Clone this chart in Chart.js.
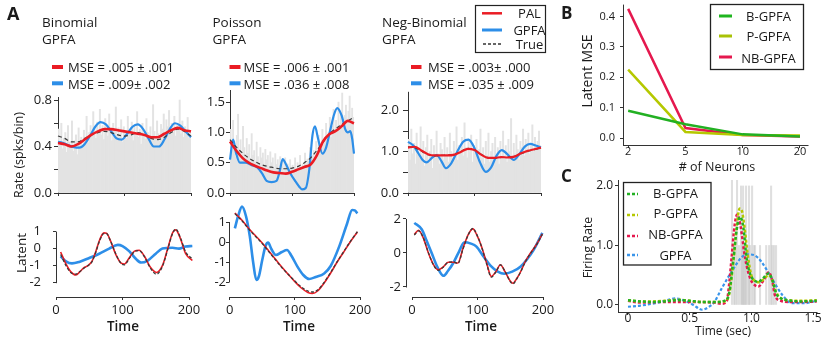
<!DOCTYPE html>
<html>
<head>
<meta charset="utf-8">
<script src="https://cdn.jsdelivr.net/npm/chart.js@4.4.0/dist/chart.umd.min.js"></script>
<style>
  body { margin: 0; background: #fff; }
  #wrap { position: relative; width: 830px; height: 338px; overflow: hidden; }
  #wrap canvas { position: absolute; }
  #wrap svg { position: absolute; left: 0; top: 0; z-index: 2; pointer-events: none; }
</style>
</head>
<body>
<div id="wrap">
<svg width="830" height="338" font-family="Open Sans" fill="#1a1a1a">
  <text x="7" y="20" font-size="18" font-weight="700">A</text>
  <text x="42" y="27" font-size="13.5">Binomial</text>
  <text x="42" y="43.5" font-size="13.5">GPFA</text>
  <text x="212.5" y="27" font-size="13.5">Poisson</text>
  <text x="212.5" y="43.5" font-size="13.5">GPFA</text>
  <text x="382" y="27" font-size="13.5">Neg-Binomial</text>
  <text x="382" y="43.5" font-size="13.5">GPFA</text>

  <g stroke-width="4">
    <line x1="52" y1="67" x2="63" y2="67" stroke="#ea1c24"/>
    <line x1="52" y1="83.3" x2="63" y2="83.3" stroke="#2d8ee8"/>
    <line x1="229.5" y1="67" x2="240.5" y2="67" stroke="#ea1c24"/>
    <line x1="229.5" y1="83.3" x2="240.5" y2="83.3" stroke="#2d8ee8"/>
    <line x1="411" y1="67" x2="421.5" y2="67" stroke="#ea1c24"/>
    <line x1="411" y1="83.3" x2="421.5" y2="83.3" stroke="#2d8ee8"/>
  </g>
  <g font-size="13">
    <text x="68" y="72">MSE = .005 ± .001</text>
    <text x="68" y="88.5">MSE = .009± .002</text>
    <text x="243.5" y="72">MSE = .006 ± .001</text>
    <text x="243.5" y="88.5">MSE = .036 ± .008</text>
    <text x="428" y="72">MSE = .003± .000</text>
    <text x="428" y="88.5">MSE = .035 ± .009</text>
  </g>

  <rect x="475.5" y="5.5" width="70" height="47" fill="#fff" stroke="#222" stroke-width="1.2"/>
  <line x1="482" y1="13.3" x2="502" y2="13.3" stroke="#ea1c24" stroke-width="2.5"/>
  <line x1="482" y1="30" x2="502" y2="30" stroke="#2d8ee8" stroke-width="3"/>
  <line x1="483" y1="44" x2="502" y2="44" stroke="#333" stroke-width="1.5" stroke-dasharray="3 2"/>
  <g font-size="13" text-anchor="middle">
    <text x="529.5" y="18">PAL</text>
    <text x="529.5" y="35">GPFA</text>
    <text x="529.5" y="48.5">True</text>
  </g>

  <text transform="translate(22.8,155) rotate(-90)" font-size="12.5" text-anchor="middle">Rate (spks/bin)</text>
  <text transform="translate(26,253) rotate(-90)" font-size="13.5" text-anchor="middle">Latent</text>
  <g font-size="13.5" font-weight="600" text-anchor="middle">
    <text x="123" y="331">Time</text>
    <text x="299" y="331">Time</text>
    <text x="481" y="331">Time</text>
  </g>

  <text x="561" y="18.5" font-size="17" font-weight="700">B</text>
  <text transform="translate(591.5,71) rotate(-90)" font-size="14" text-anchor="middle">Latent MSE</text>
  <text x="717" y="171" font-size="12.5" text-anchor="middle"># of Neurons</text>
  <rect x="710.5" y="4.5" width="93" height="65" fill="#fff" stroke="#222" stroke-width="1.3"/>
  <g stroke-width="3">
    <line x1="719" y1="16" x2="732" y2="16" stroke="#1fb51f"/>
    <line x1="719" y1="36" x2="732" y2="36" stroke="#a9c206"/>
    <line x1="719" y1="57" x2="732" y2="57" stroke="#e5184e"/>
  </g>
  <g font-size="13" text-anchor="middle">
    <text x="768.5" y="21">B-GPFA</text>
    <text x="768.5" y="41">P-GPFA</text>
    <text x="768.5" y="62.5">NB-GPFA</text>
  </g>

  <text x="561" y="182" font-size="17" font-weight="700">C</text>
  <text transform="translate(591.5,247.5) rotate(-90)" font-size="12.5" text-anchor="middle">Firing Rate</text>
  <text x="723" y="334.5" font-size="12" text-anchor="middle">Time (sec)</text>
  <rect x="623.5" y="182.5" width="87.5" height="82.5" fill="#fff" stroke="#222" stroke-width="1.3"/>
  <g stroke-width="2.5" stroke-dasharray="3 2">
    <line x1="627" y1="194" x2="638" y2="194" stroke="#22b022"/>
    <line x1="627" y1="215" x2="638" y2="215" stroke="#b5c800"/>
    <line x1="627" y1="236" x2="638" y2="236" stroke="#e5184e"/>
    <line x1="627" y1="255" x2="638" y2="255" stroke="#3a95ea"/>
  </g>
  <g font-size="13" text-anchor="middle">
    <text x="675.5" y="197.5">B-GPFA</text>
    <text x="675.5" y="218">P-GPFA</text>
    <text x="675.5" y="239">NB-GPFA</text>
    <text x="675.5" y="259.5">GPFA</text>
  </g>
</svg>
</div>

<script>
// ---- panel A, rate rows (time 0..200) ----
var rateT = [0,10,20,30,40,50,60,70,80,90,100,110,120,130,140,150,160,170,180,190,200];
var RATE_BIN = 2; // spike-count bins, width in time units

var binomPal  = [0.43,0.42,0.40,0.42,0.46,0.50,0.53,0.55,0.55,0.54,0.53,0.52,0.51,0.50,0.48,0.48,0.51,0.54,0.56,0.54,0.53];
var binomTrue = [0.49,0.47,0.44,0.44,0.47,0.50,0.52,0.53,0.52,0.50,0.49,0.50,0.52,0.50,0.47,0.46,0.48,0.52,0.55,0.53,0.49];
var binomGpfaT = [0,8,16,24,32,40,48,56,64,72,80,88,96,104,112,120,128,136,144,152,160,168,176,184,192,200];
var binomGpfa  = [0.44,0.43,0.41,0.395,0.39,0.42,0.49,0.57,0.61,0.59,0.53,0.47,0.46,0.51,0.57,0.59,0.55,0.47,0.40,0.40,0.46,0.55,0.60,0.58,0.53,0.48];
var binomCounts = [0.55,0.42,0.60,0.38,0.47,0.52,0.35,0.58,0.44,0.40,0.62,0.36,0.45,0.50,0.33,0.56,0.41,0.48,0.39,0.54,
  0.46,0.66,0.43,0.52,0.58,0.49,0.70,0.55,0.47,0.61,0.53,0.72,0.50,0.58,0.46,0.64,0.55,0.49,0.68,0.52,
  0.45,0.60,0.54,0.74,0.48,0.56,0.50,0.63,0.44,0.57,0.52,0.47,0.66,0.53,0.49,0.61,0.45,0.58,0.51,0.70,
  0.48,0.55,0.42,0.60,0.50,0.46,0.64,0.52,0.44,0.57,0.49,0.76,0.53,0.47,0.62,0.51,0.45,0.59,0.55,0.68,
  0.50,0.63,0.57,0.71,0.54,0.60,0.52,0.66,0.49,0.58,0.55,0.80,0.51,0.62,0.48,0.57,0.53,0.65,0.47,0.52];

var poisPal  = [0.85,0.70,0.58,0.50,0.45,0.41,0.37,0.34,0.33,0.32,0.35,0.39,0.43,0.47,0.62,0.85,0.97,1.02,1.10,1.19,1.15];
var poisTrue = [0.88,0.76,0.66,0.58,0.52,0.47,0.44,0.42,0.40,0.40,0.41,0.44,0.50,0.58,0.70,0.84,0.97,1.06,1.13,1.19,1.25];
var poisGpfaT = [0,5,10,16,25,35,43,52,59,67,75,80,85,90,97,105,112,116,122,128,133,137,142,149,155,162,168,173,180,186,190,194,197,200];
var poisGpfa  = [0.55,0.88,0.65,0.50,0.50,0.46,0.43,0.32,0.20,0.18,0.20,0.35,0.56,0.48,0.33,0.20,0.10,0.06,0.08,0.40,0.95,1.10,0.90,0.65,0.75,1.05,1.30,1.40,1.28,1.05,1.00,1.02,0.90,0.65];
var poisCounts = [1.05,0.70,1.20,0.85,0.60,0.95,1.30,0.72,0.88,0.62,1.10,0.75,0.58,0.90,0.66,0.80,0.55,0.98,0.62,0.70,
  0.52,0.84,0.60,0.48,0.75,0.58,0.66,0.45,0.72,0.55,0.62,0.42,0.68,0.50,0.58,0.40,0.65,0.47,0.55,0.38,
  0.60,0.44,0.52,0.36,0.58,0.42,0.48,0.35,0.55,0.40,0.46,0.34,0.58,0.40,0.50,0.37,0.62,0.42,0.48,0.45,
  0.66,0.48,0.56,0.52,0.75,0.55,0.62,0.70,0.58,0.85,0.68,0.95,0.78,0.72,1.05,0.85,0.92,1.15,0.80,1.00,
  1.25,0.92,1.10,1.38,0.98,1.20,1.05,1.50,1.12,1.30,1.65,1.08,1.28,1.45,1.15,1.35,1.60,1.20,1.40,1.25];

var nbPal  = [1.10,1.12,1.03,0.94,0.91,0.91,0.91,0.93,1.00,1.07,1.04,0.93,0.85,0.85,0.87,0.86,0.88,0.96,1.02,1.06,1.10];
var nbTrue = [1.12,1.10,1.01,0.93,0.90,0.91,0.92,0.94,1.01,1.08,1.05,0.94,0.86,0.84,0.86,0.87,0.89,0.95,1.01,1.05,1.09];
var nbGpfaT = [0,8,16,22,28,36,43,50,57,65,74,83,91,99,108,117,125,133,141,150,159,167,176,184,192,200];
var nbGpfa  = [1.24,1.15,0.95,0.80,0.74,0.85,0.92,0.78,0.60,0.72,1.00,1.24,1.29,1.12,0.75,0.51,0.62,0.90,1.04,0.93,0.80,0.93,1.13,1.19,1.15,1.10];
var nbCounts = [1.30,0.80,1.55,0.95,1.20,0.70,1.45,1.05,0.85,1.60,0.90,1.25,0.65,1.10,1.40,0.75,1.00,1.30,0.60,1.15,
  0.85,1.50,0.95,0.70,1.20,1.05,0.80,1.35,0.90,1.10,0.75,1.45,1.00,0.85,1.25,0.95,1.60,0.80,1.15,1.05,
  1.35,0.90,1.70,1.10,0.85,1.25,1.00,1.40,0.75,1.15,0.95,1.30,0.80,1.05,1.55,0.85,1.10,0.70,1.25,0.90,
  1.45,0.75,1.00,1.20,0.80,1.35,0.95,1.10,0.70,1.25,0.85,1.50,0.90,1.15,0.75,1.30,1.00,1.80,0.85,1.20,
  0.95,1.40,1.05,0.80,1.25,1.10,1.55,0.90,1.30,1.05,1.45,0.95,1.20,1.65,1.00,1.35,1.10,1.25,1.50,1.15];

// ---- panel A, latent rows ----
var binLatT    = [7,15,22,30,36,42,48,54,60,66,72,76,82,90,98,103,110,118,125,133,142,151,160,168,175,180,187,195,205];
var binLatPal  = [-0.2,-0.9,-1.35,-1.55,-1.35,-1.12,-1.0,-0.75,-0.15,0.55,0.92,0.9,0.45,-0.35,-0.85,-0.9,-0.55,-0.15,-0.1,-0.45,-1.1,-1.4,-1.0,0.0,0.9,1.1,0.6,-0.3,-0.7];
var binLatTrue = [-0.35,-1.0,-1.4,-1.5,-1.35,-1.15,-1.0,-0.78,-0.2,0.5,0.88,0.88,0.45,-0.32,-0.88,-0.95,-0.6,-0.18,-0.12,-0.48,-1.15,-1.5,-1.05,-0.05,0.85,1.15,0.65,-0.2,-0.6];
var binLatGpfaT = [7,15,24,35,50,65,80,93,100,110,120,128,138,150,160,175,185,195,205];
var binLatGpfa  = [-0.45,-0.75,-0.87,-0.78,-0.55,-0.3,0.0,0.22,0.15,-0.15,-0.6,-0.82,-0.7,-0.3,0.0,0.05,0.0,0.12,0.15];

var poisLatT    = [8,20,30,40,50,60,70,80,90,100,110,120,127,135,145,155,165,175,185,196];
var poisLatPal  = [1.45,1.05,0.65,0.3,-0.05,-0.45,-0.85,-1.25,-1.62,-1.98,-2.3,-2.52,-2.57,-2.45,-2.05,-1.55,-1.0,-0.5,0.0,0.5];
var poisLatTrue = [1.42,1.02,0.62,0.27,-0.08,-0.48,-0.88,-1.28,-1.62,-1.95,-2.25,-2.45,-2.5,-2.4,-2.02,-1.52,-0.98,-0.48,0.02,0.52];
var poisLatGpfaT = [8,13,19,25,31,36,41,45,50,55,59,64,71,80,88,95,104,113,122,132,145,155,168,180,188,192,196];
var poisLatGpfa  = [0.68,1.3,1.77,1.3,0.27,-1.0,-1.9,-1.7,-0.9,-0.2,-0.03,-0.35,-0.65,-0.5,-0.4,-0.7,-1.23,-1.65,-1.85,-1.75,-1.57,-1.2,-0.23,0.9,1.6,1.58,1.43];

var nbLatT    = [3.5,10,17,25,33,40,48,55,63,70,78,86,93,99,106,114,121,128,135,142,150,154,160,166,173,181,190,199];
var nbLatPal  = [1.08,1.34,0.9,0.0,-0.7,-0.99,-0.8,-0.55,-0.55,-0.59,0.3,1.1,1.42,1.05,0.4,-0.6,-1.38,-1.1,-0.69,-1.1,-1.65,-1.78,-1.5,-1.09,-0.5,0.0,0.5,1.12];
var nbLatTrue = [1.05,1.3,0.92,0.02,-0.72,-1.02,-0.82,-0.55,-0.52,-0.62,0.25,1.08,1.45,1.08,0.38,-0.65,-1.42,-1.12,-0.7,-1.08,-1.68,-1.82,-1.52,-1.1,-0.52,-0.02,0.48,1.1];
var nbLatGpfaT = [3.5,15,22,30,39,48,55,63,72,80,90,98,110,121,131,141,153,166,176,186,199];
var nbLatGpfa  = [1.77,1.38,0.75,0.0,-0.85,-1.34,-1.05,-0.59,0.1,0.63,0.55,0.39,-0.25,-0.79,-1.1,-1.22,-1.1,-0.79,-0.35,0.2,1.18];

// ---- panel B ----
var neuronCats = ['2', '5', '10', '20'];
var bGpfaMse  = [0.09, 0.045, 0.012, 0.005];
var pGpfaMse  = [0.225, 0.02, 0.01, 0.008];
var nbGpfaMse = [0.425, 0.033, 0.01, 0.005];

// ---- panel C (time in sec) ----
var cBT = [0,0.1,0.2,0.3,0.4,0.5,0.6,0.7,0.78,0.82,0.855,0.88,0.908,0.935,0.96,0.99,1.02,1.057,1.1,1.14,1.17,1.2,1.25,1.29,1.4,1.53];
var cB  = [0.08,0.06,0.05,0.06,0.08,0.07,0.05,0.05,0.07,0.2,0.78,1.25,1.48,1.3,0.8,0.52,0.42,0.39,0.46,0.53,0.42,0.2,0.1,0.08,0.06,0.07];
var cPT = [0,0.1,0.2,0.3,0.4,0.5,0.6,0.7,0.78,0.82,0.855,0.88,0.905,0.92,0.945,0.97,1.0,1.03,1.06,1.1,1.14,1.17,1.2,1.25,1.3,1.4,1.53];
var cP  = [0.08,0.06,0.06,0.07,0.09,0.07,0.05,0.05,0.06,0.18,0.75,1.3,1.62,1.6,1.3,0.85,0.5,0.4,0.38,0.43,0.5,0.42,0.22,0.1,0.08,0.07,0.08];
var cNBT = [0,0.1,0.3,0.5,0.7,0.76,0.8,0.82,0.84,0.865,0.885,0.91,0.95,0.99,1.03,1.057,1.1,1.14,1.17,1.19,1.24,1.3,1.4,1.53];
var cNB  = [0.07,0.04,0.05,0.05,0.04,0.02,0.06,0.35,0.8,1.35,1.52,1.35,0.78,0.45,0.33,0.31,0.42,0.55,0.4,0.17,0.07,0.05,0.05,0.06];
var cGT = [0,0.1,0.22,0.3,0.38,0.45,0.53,0.6,0.65,0.7,0.76,0.84,0.92,0.97,1.02,1.08,1.165,1.25,1.33,1.43,1.53];
var cG  = [-0.03,-0.01,0.03,0.07,0.11,0.08,0.0,-0.08,-0.04,0.05,0.28,0.56,0.8,0.85,0.84,0.73,0.45,0.17,0.03,0.03,0.07];
var cSpikeT = [0.843,0.884,0.916,0.933,0.957,0.981,1.006,1.16,0.86,0.87,0.9,0.925,0.94,0.95,0.97,0.99,1.02,1.03,1.07,1.12,1.144,1.17,1.184,1.2];
var cSpikeH = [2.1,2.1,2,2,2,2,2,2,1,1,1,1,1,1,1,1,1,1,1,1,1,1,1,1];

var RED = '#ea1c24', BLUE = '#2d8ee8', TRUE = '#3a3a3a';
var GREEN = '#22b022', OLIVE = '#b5c800', CRIMSON = '#e5184e';

Chart.defaults.font.family = 'Open Sans';
Chart.defaults.color = '#1a1a1a';

var PAD_L = 44, PAD_T = 10, PAD_R = 16, PAD_B = 32;

var axisLines = {
  id: 'axisLines',
  beforeDatasetsDraw: function (chart, args, o) {
    var ctx = chart.ctx, a = chart.chartArea, x = chart.scales.x, y = chart.scales.y;
    var yb = Math.round(a.bottom) + 0.5, xl = Math.round(a.left) + 0.5;
    ctx.save();
    ctx.strokeStyle = '#333';
    ctx.lineWidth = 1;
    ctx.beginPath();
    ctx.moveTo(x.getPixelForValue(o.x[0]), yb);
    ctx.lineTo(x.getPixelForValue(o.x[1]) + 0.5, yb);
    ctx.moveTo(xl, y.getPixelForValue(o.y[0]) + 0.5);
    ctx.lineTo(xl, y.getPixelForValue(o.y[1]));
    ctx.stroke();
    ctx.restore();
  }
};

function axis(o, isX, fs) {
  return {
    type: 'linear', min: o.min, max: o.max, offset: false,
    afterFit: function (s) { if (isX) s.height = PAD_B; else s.width = PAD_L; },
    afterBuildTicks: function (s) { s.ticks = o.ticks.map(function (v) { return {value: v}; }); },
    grid: {drawOnChartArea: false, drawTicks: true, tickLength: o.tick || 4, color: '#333', offset: false},
    border: {display: false},
    ticks: {
      autoSkip: false, maxRotation: 0, padding: o.pad == null ? 2 : o.pad,
      font: {size: fs}, color: '#1a1a1a',
      callback: function (v) { return o.label ? o.label(v) : ''; }
    }
  };
}

function line(xs, ys, color, width, order, dash) {
  return {
    type: 'line', data: xs.map(function (x, i) { return {x: x, y: ys[i]}; }),
    borderColor: color, borderWidth: width, borderDash: dash || [], pointRadius: 0,
    fill: false, cubicInterpolationMode: 'monotone', clip: false, order: order
  };
}

function bars(vals) {
  return {
    type: 'bar', data: vals.map(function (v, i) { return {x: i * RATE_BIN + RATE_BIN / 2, y: v}; }),
    backgroundColor: '#e3e3e3', borderWidth: 0, barPercentage: 1, categoryPercentage: 1, order: 9
  };
}

function plot(area, x, y, fs, datasets) {
  var w = area[2] - area[0] + PAD_L + PAD_R, h = area[3] - area[1] + PAD_T + PAD_B;
  var c = document.createElement('canvas');
  c.width = w; c.height = h;
  c.style.left = (area[0] - PAD_L) + 'px';
  c.style.top = (area[1] - PAD_T) + 'px';
  c.style.width = w + 'px';
  c.style.height = h + 'px';
  document.getElementById('wrap').appendChild(c);
  return new Chart(c, {
    type: 'line',
    data: {datasets: datasets},
    options: {
      responsive: false, animation: false, events: [],
      layout: {padding: {left: 0, top: PAD_T, right: PAD_R, bottom: 0}},
      scales: {x: axis(x, true, fs), y: axis(y, false, fs)},
      plugins: {legend: {display: false}, tooltip: {enabled: false}, axisLines: {x: x.line, y: y.line}}
    },
    plugins: [axisLines]
  });
}

function fmt1(v) { return v.toFixed(1); }
function only(list, f) { return function (v) { return list.indexOf(v) >= 0 ? f(v) : ''; }; }
function intLabel(v) { return String(v); }

var timeTicks = [0, 100, 200];

// rate rows
plot([58, 97, 191, 193],
  {min: 0, max: 200, ticks: timeTicks, line: [0, 200], tick: 3},
  {min: 0, max: 0.826, ticks: [0, 0.2, 0.4, 0.6, 0.8], label: only([0, 0.4, 0.8], fmt1), line: [0, 0.826], tick: 4, pad: 2},
  13,
  [line(rateT, binomPal, RED, 2.6, 1), line(rateT, binomTrue, TRUE, 1.2, 2, [4, 3]),
   line(binomGpfaT, binomGpfa, BLUE, 2.2, 3), bars(binomCounts)]);

plot([230, 90, 354, 193],
  {min: 0, max: 200, ticks: timeTicks, line: [0, 200], tick: 3},
  {min: 0, max: 1.70, ticks: [0, 0.5, 1, 1.5], label: fmt1, line: [0, 1.70], tick: 4, pad: 1},
  13,
  [line(rateT, poisPal, RED, 2.6, 1), line(rateT, poisTrue, TRUE, 1.2, 2, [4, 3]),
   line(poisGpfaT, poisGpfa, BLUE, 2.2, 3), bars(poisCounts)]);

plot([408, 90, 541, 193],
  {min: 0, max: 200, ticks: timeTicks, line: [0, 200], tick: 3},
  {min: 0, max: 2.45, ticks: [0, 0.5, 1, 1.5, 2], label: only([0, 1, 2], fmt1), line: [0, 2.45], tick: 5, pad: 4},
  13,
  [line(rateT, nbPal, RED, 2.2, 1), line(rateT, nbTrue, TRUE, 1.2, 2, [4, 3]),
   line(nbGpfaT, nbGpfa, BLUE, 2.2, 3), bars(nbCounts)]);

// latent rows
plot([56, 203, 189, 297],
  {min: 0, max: 200, ticks: timeTicks, label: intLabel, line: [0, 200], tick: 3},
  {min: -2.84, max: 2.1, ticks: [-2, -1, 0, 1], label: intLabel, line: [-2, 1], tick: 3, pad: 12},
  13,
  [line(binLatT, binLatTrue, TRUE, 1.3, 1, [3, 2]), line(binLatT, binLatPal, RED, 1.6, 2),
   line(binLatGpfaT, binLatGpfa, BLUE, 2.6, 3)]);

plot([229, 203, 360, 297],
  {min: -1, max: 200, ticks: timeTicks, label: intLabel, line: [0, 200], tick: 3},
  {min: -2.75, max: 1.95, ticks: [-2, -1, 0, 1], label: intLabel, line: [-2, 1], tick: 3, pad: 0},
  13,
  [line(poisLatT, poisLatTrue, TRUE, 1.3, 1, [3, 2]), line(poisLatT, poisLatPal, RED, 1.6, 2),
   line(poisLatGpfaT, poisLatGpfa, BLUE, 2.6, 3)]);

plot([406, 203, 543, 297],
  {min: -9.2, max: 200, ticks: timeTicks, label: intLabel, line: [0, 200], tick: 3},
  {min: -2.59, max: 2.94, ticks: [-2, 0, 2], label: intLabel, line: [-2, 2], tick: 3, pad: 2},
  13,
  [line(nbLatT, nbLatTrue, TRUE, 1.3, 1, [3, 2]), line(nbLatT, nbLatPal, RED, 1.6, 2),
   line(nbLatGpfaT, nbLatGpfa, BLUE, 2.6, 3)]);

// panel B
var catIdx = neuronCats.map(function (c, i) { return i; });
function straight(ds) { ds.cubicInterpolationMode = 'default'; ds.tension = 0; return ds; }
plot([623, 3, 808, 145],
  {min: -0.09, max: 3.14, ticks: catIdx, label: function (v) { return neuronCats[v]; }, line: [-0.09, 3.14], tick: 3, pad: -3},
  {min: -0.023, max: 0.439, ticks: [0, 0.1, 0.2, 0.3, 0.4], label: fmt1, line: [-0.023, 0.439], tick: 3, pad: 5},
  11,
  [straight(line(catIdx, nbGpfaMse, CRIMSON, 2.5, 3)), straight(line(catIdx, pGpfaMse, OLIVE, 2.5, 2)),
   straight(line(catIdx, bGpfaMse, GREEN, 2.5, 1))]);

// panel C
plot([618, 180, 817, 312],
  {min: -0.081, max: 1.532, ticks: [0, 0.5, 1, 1.5], label: function (v) { return v === 0 ? '0' : v.toFixed(1); }, line: [-0.081, 1.532], tick: 3, pad: -4},
  {min: -0.118, max: 2.10, ticks: [0, 1, 2], label: fmt1, line: [-0.118, 2.10], tick: 3, pad: 2},
  12,
  [line(cBT, cB, GREEN, 2.5, 1, [3, 2]), line(cPT, cP, OLIVE, 2.5, 2, [3, 2]),
   line(cNBT, cNB, CRIMSON, 2.5, 3, [3, 2]), line(cGT, cG, '#3a95ea', 2.2, 4, [3, 2]),
   {type: 'bar', data: cSpikeT.map(function (t, i) { return {x: t, y: cSpikeH[i]}; }),
    backgroundColor: 'rgba(185,185,185,0.45)', borderWidth: 0, barThickness: 1.4, order: 9}]);
</script>
</body>
</html>
